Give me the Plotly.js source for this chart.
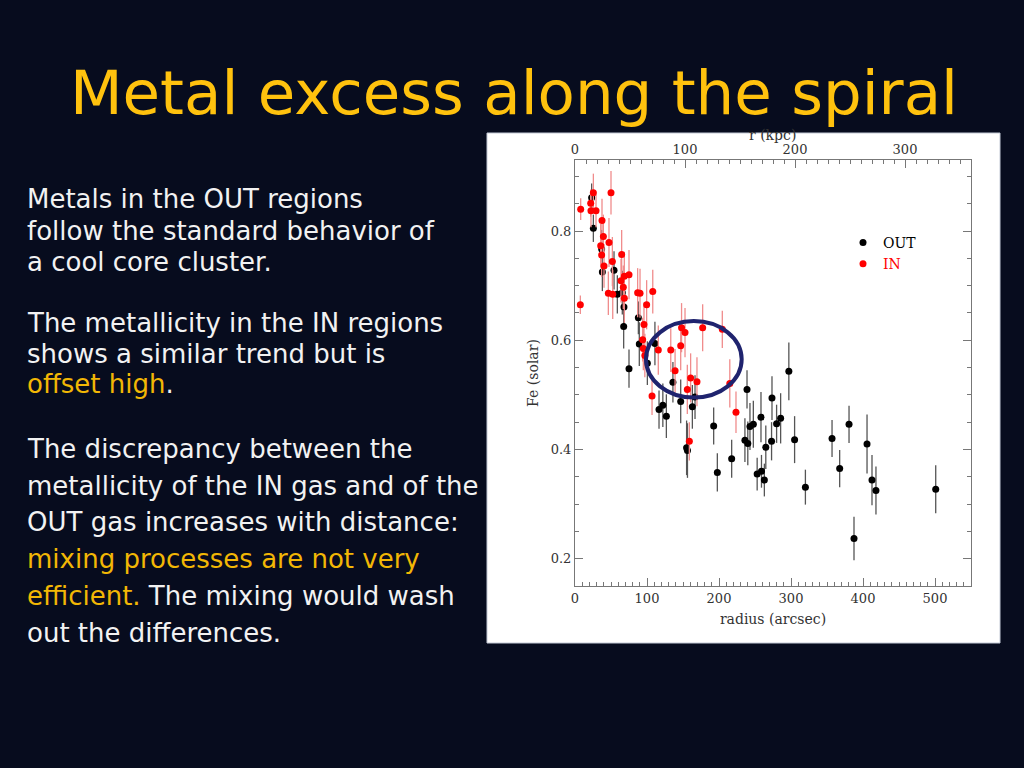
<!DOCTYPE html>
<html>
<head>
<meta charset="utf-8">
<script src="https://cdn.plot.ly/plotly-3.0.1.min.js"></script>
<style>
html,body{margin:0;padding:0;background:#070c1e;}
#chart{width:1024px;height:768px;}
</style>
</head>
<body>
<div id="chart"></div>
<script>
// OUT regions: radius (arcsec), Fe (solar), 1-sigma error
const OUT_R   = [23.1, 25.5, 37.0, 38.0, 54.2, 58.8, 65.7, 68.0, 67.6, 88.0, 75.0, 89.3, 100.5, 111.0, 116.7, 122.0, 126.9, 136.0, 146.8, 155.0, 156.2, 163.0, 166.7, 192.6, 197.7, 217.6, 238.9, 236.0, 240.0, 243.0, 247.7, 253.0, 259.0, 258.3, 263.0, 265.0, 273.0, 273.6, 280.0, 285.6, 297.0, 305.0, 320.0, 357.0, 367.6, 380.6, 387.5, 405.6, 412.5, 418.0, 501.0];
const OUT_FE  = [0.861, 0.805, 0.767, 0.725, 0.728, 0.684, 0.687, 0.661, 0.625, 0.641, 0.548, 0.593, 0.558, 0.594, 0.473, 0.481, 0.461, 0.523, 0.488, 0.403, 0.398, 0.478, 0.496, 0.443, 0.358, 0.383, 0.510, 0.417, 0.411, 0.442, 0.446, 0.355, 0.360, 0.459, 0.344, 0.404, 0.415, 0.494, 0.447, 0.457, 0.543, 0.418, 0.331, 0.420, 0.365, 0.446, 0.237, 0.410, 0.344, 0.325, 0.327];
const OUT_ERR = [0.026, 0.025, 0.035, 0.035, 0.035, 0.035, 0.04, 0.04, 0.04, 0.03, 0.035, 0.04, 0.04, 0.04, 0.035, 0.04, 0.04, 0.037, 0.04, 0.05, 0.05, 0.04, 0.04, 0.034, 0.035, 0.035, 0.035, 0.04, 0.04, 0.043, 0.043, 0.03, 0.03, 0.046, 0.03, 0.04, 0.035, 0.04, 0.035, 0.046, 0.053, 0.043, 0.032, 0.034, 0.034, 0.034, 0.04, 0.054, 0.046, 0.044, 0.044];

// IN regions
const IN_R   = [7.9, 7.4, 21.8, 22.2, 25.5, 29.2, 37.5, 39.4, 35.7, 37.0, 40.3, 47.2, 50.0, 51.9, 46.3, 52.4, 64.8, 63.9, 68.5, 75.0, 67.1, 68.5, 87.0, 90.3, 108.0, 99.5, 95.8, 94.0, 94.9, 97.0, 107.0, 115.7, 133.0, 139.0, 146.8, 148.0, 152.8, 156.0, 160.6, 169.4, 158.8, 177.3, 204.6, 215.0, 223.6];
const IN_FE  = [0.840, 0.665, 0.851, 0.837, 0.870, 0.837, 0.819, 0.790, 0.773, 0.756, 0.736, 0.779, 0.870, 0.744, 0.686, 0.684, 0.757, 0.709, 0.717, 0.720, 0.697, 0.677, 0.687, 0.686, 0.689, 0.665, 0.629, 0.601, 0.585, 0.572, 0.498, 0.582, 0.582, 0.544, 0.590, 0.623, 0.614, 0.510, 0.531, 0.524, 0.415, 0.623, 0.620, 0.521, 0.468];
const IN_ERR = [0.02, 0.017, 0.025, 0.03, 0.035, 0.03, 0.04, 0.04, 0.04, 0.04, 0.04, 0.045, 0.04, 0.045, 0.04, 0.045, 0.045, 0.04, 0.045, 0.045, 0.04, 0.045, 0.045, 0.045, 0.04, 0.045, 0.04, 0.04, 0.04, 0.04, 0.035, 0.045, 0.04, 0.04, 0.045, 0.045, 0.045, 0.045, 0.045, 0.045, 0.035, 0.043, 0.034, 0.044, 0.038];

const SERIES_NAMES = ['OUT', 'IN'];
const X_TICKS = [0, 100, 200, 300, 400, 500];
const KPC_TICKS = [0, 100, 200, 300];
const Y_TICKS = [0.2, 0.4, 0.6, 0.8];

const TITLE = 'Metal excess along the spiral';
const TEXT_LINES = [
  {t: 'Metals in the OUT regions', b: 209},
  {t: 'follow the standard behavior of', b: 240.5},
  {t: 'a cool core cluster.', b: 271.5},
  {t: 'The metallicity in the IN regions', b: 332},
  {t: 'shows a similar trend but is', b: 363},
  {t: '<span style="color:#f2b705">offset high</span>.', b: 393},
  {t: 'The discrepancy between the', b: 458},
  {t: 'metallicity of the IN gas and of the', b: 495},
  {t: 'OUT gas increases with distance:', b: 531.5},
  {t: '<span style="color:#f2b705">mixing processes are not very</span>', b: 568},
  {t: '<span style="color:#f2b705">efficient.</span> The mixing would wash', b: 605},
  {t: 'out the differences.', b: 642}
];

// plot frame in page pixels
const L = 575, R = 971, T = 160, B = 586;
const W = R - L, H = B - T;
const px = x => (x - L) / W;
const py = y => (B - y) / H;

const serif = 'DejaVu Serif, Liberation Serif, serif';
const hand = 'DejaVu Sans, Noto Sans, sans-serif';

const traces = [
  {
    type: 'scatter', mode: 'markers', name: SERIES_NAMES[0],
    x: OUT_R, y: OUT_FE,
    error_y: {type: 'data', array: OUT_ERR, visible: true, color: '#555555', thickness: 1.3, width: 0},
    marker: {color: '#000000', size: 7},
    hoverinfo: 'x+y'
  },
  {
    type: 'scatter', mode: 'markers', name: '<span style="color:#ff0000">' + SERIES_NAMES[1] + '</span>',
    x: IN_R, y: IN_FE,
    error_y: {type: 'data', array: IN_ERR, visible: true, color: '#f08c8c', thickness: 1.3, width: 0},
    marker: {color: '#ff0000', size: 7},
    hoverinfo: 'x+y'
  },
  {
    type: 'scatter', mode: 'markers', xaxis: 'x2', yaxis: 'y',
    x: KPC_TICKS, y: KPC_TICKS.map(() => null),
    showlegend: false, hoverinfo: 'skip', marker: {opacity: 0}
  }
];

const annotations = TEXT_LINES.map(l => ({
  xref: 'paper', yref: 'paper', x: px(25), y: py(l.b - 9.5),
  xanchor: 'left', yanchor: 'middle', showarrow: false, align: 'left',
  text: l.t, font: {family: hand, size: 26, color: '#f2f2f2'}
}));
annotations.push({
  xref: 'paper', yref: 'paper', x: px(772), y: py(135),
  xanchor: 'center', yanchor: 'middle', showarrow: false,
  text: 'r (kpc)', font: {family: serif, size: 14, color: '#333'}
});

const layout = {
  width: 1024, height: 768,
  margin: {l: L, r: 1024 - R, t: T, b: 768 - B, pad: 0},
  paper_bgcolor: '#070c1e',
  plot_bgcolor: '#ffffff',
  showlegend: true,
  title: {
    text: TITLE, x: 514 / 1024, y: 1 - 92.5 / 768, xanchor: 'center', yanchor: 'middle',
    xref: 'container', yref: 'container',
    font: {family: hand, size: 61, color: '#ffc20e'}
  },
  xaxis: {
    range: [0, 550], tickvals: X_TICKS, ticks: 'inside', ticklen: 8, tickcolor: '#777',
    minor: {dtick: 10, ticks: 'inside', ticklen: 4, tickcolor: '#777'},
    showline: true, linecolor: '#777', linewidth: 1, mirror: false,
    showgrid: false, zeroline: false,
    tickfont: {family: serif, size: 13, color: '#333'},
    title: {text: 'radius (arcsec)', standoff: 9, font: {family: serif, size: 14, color: '#333'}}
  },
  xaxis2: {
    overlaying: 'x', side: 'top', anchor: 'y', range: [0, 360], tickvals: KPC_TICKS,
    ticks: 'inside', ticklen: 8, tickcolor: '#777',
    minor: {dtick: 10, ticks: 'inside', ticklen: 4, tickcolor: '#777'},
    showline: true, linecolor: '#777', linewidth: 1,
    showgrid: false, zeroline: false,
    tickfont: {family: serif, size: 13, color: '#333'}
  },
  yaxis: {
    range: [0.15, 0.93], tickvals: Y_TICKS, ticktext: Y_TICKS.map(v => v.toFixed(1)),
    ticks: 'inside', ticklen: 8, tickcolor: '#777',
    minor: {dtick: 0.05, tick0: 0.2, ticks: 'inside', ticklen: 4, tickcolor: '#777'},
    showline: true, linecolor: '#777', linewidth: 1, mirror: 'ticks',
    showgrid: false, zeroline: false,
    tickfont: {family: serif, size: 13, color: '#333'},
    title: {text: 'Fe (solar)', standoff: 8, font: {family: serif, size: 14, color: '#333'}}
  },
  legend: {
    x: px(843), y: py(227), xanchor: 'left', yanchor: 'top',
    bgcolor: 'rgba(0,0,0,0)', borderwidth: 0, itemwidth: 30,
    font: {family: serif, size: 14, color: '#000'}
  },
  shapes: [
    {type: 'rect', xref: 'paper', yref: 'paper', layer: 'below',
     x0: px(487), x1: px(1000), y0: py(643), y1: py(133),
     fillcolor: '#ffffff', line: {color: '#c4cad6', width: 1}},
    {type: 'circle', xref: 'x', yref: 'y', layer: 'above',
     x0: 98.6, x1: 231.5, y0: 0.495, y1: 0.635,
     line: {color: '#1f236e', width: 4}}
  ],
  annotations: annotations
};

Plotly.newPlot('chart', traces, layout, {staticPlot: true, displayModeBar: false});
</script>
</body>
</html>
